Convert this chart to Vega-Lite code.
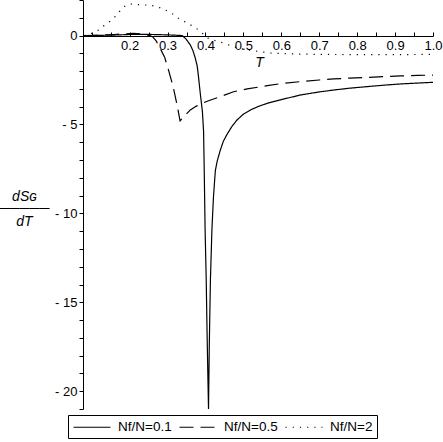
{
  "$schema": "https://vega.github.io/schema/vega-lite/v6.json",
  "width": 350,
  "height": 409,
  "autosize": {"type": "none"},
  "padding": {"left": 83, "top": 0, "right": 10, "bottom": 33},
  "background": "white",
  "config": {
    "view": {"stroke": null},
    "font": "Liberation Sans",
    "axis": {"grid": false, "domainColor": "black", "tickColor": "black", "labelColor": "black", "titleColor": "black", "domainWidth": 1, "tickWidth": 1, "labelFont": "Liberation Sans", "labelFontSize": 13, "titleFont": "Liberation Sans", "titleFontWeight": "normal"}
  },
  "data": {
    "values": [
      {"s": "Nf/N=0.1", "T": 0.08, "v": 0},
      {"s": "Nf/N=0.1", "T": 0.12, "v": 0.01},
      {"s": "Nf/N=0.1", "T": 0.16, "v": 0.03},
      {"s": "Nf/N=0.1", "T": 0.2, "v": 0.06},
      {"s": "Nf/N=0.1", "T": 0.24, "v": 0.07},
      {"s": "Nf/N=0.1", "T": 0.28, "v": 0.05},
      {"s": "Nf/N=0.1", "T": 0.31, "v": 0.03},
      {"s": "Nf/N=0.1", "T": 0.33, "v": 0.01},
      {"s": "Nf/N=0.1", "T": 0.339, "v": 0},
      {"s": "Nf/N=0.1", "T": 0.349, "v": -0.2},
      {"s": "Nf/N=0.1", "T": 0.36, "v": -0.53},
      {"s": "Nf/N=0.1", "T": 0.367, "v": -0.85},
      {"s": "Nf/N=0.1", "T": 0.373, "v": -1.26},
      {"s": "Nf/N=0.1", "T": 0.378, "v": -1.7},
      {"s": "Nf/N=0.1", "T": 0.381, "v": -2.2},
      {"s": "Nf/N=0.1", "T": 0.386, "v": -3.2},
      {"s": "Nf/N=0.1", "T": 0.392, "v": -4.3},
      {"s": "Nf/N=0.1", "T": 0.395, "v": -5.4},
      {"s": "Nf/N=0.1", "T": 0.397, "v": -8.0},
      {"s": "Nf/N=0.1", "T": 0.399, "v": -10.9},
      {"s": "Nf/N=0.1", "T": 0.402, "v": -13.8},
      {"s": "Nf/N=0.1", "T": 0.404, "v": -16.5},
      {"s": "Nf/N=0.1", "T": 0.406, "v": -18.8},
      {"s": "Nf/N=0.1", "T": 0.408, "v": -21},
      {"s": "Nf/N=0.1", "T": 0.41, "v": -17.5},
      {"s": "Nf/N=0.1", "T": 0.413, "v": -13.75},
      {"s": "Nf/N=0.1", "T": 0.417, "v": -10.9},
      {"s": "Nf/N=0.1", "T": 0.421, "v": -9.1},
      {"s": "Nf/N=0.1", "T": 0.426, "v": -7.6},
      {"s": "Nf/N=0.1", "T": 0.431, "v": -7.05},
      {"s": "Nf/N=0.1", "T": 0.439, "v": -6.45},
      {"s": "Nf/N=0.1", "T": 0.447, "v": -5.95},
      {"s": "Nf/N=0.1", "T": 0.457, "v": -5.55},
      {"s": "Nf/N=0.1", "T": 0.47, "v": -5.1},
      {"s": "Nf/N=0.1", "T": 0.483, "v": -4.75},
      {"s": "Nf/N=0.1", "T": 0.5, "v": -4.42},
      {"s": "Nf/N=0.1", "T": 0.519, "v": -4.18},
      {"s": "Nf/N=0.1", "T": 0.54, "v": -3.98},
      {"s": "Nf/N=0.1", "T": 0.563, "v": -3.81},
      {"s": "Nf/N=0.1", "T": 0.6, "v": -3.6},
      {"s": "Nf/N=0.1", "T": 0.651, "v": -3.34},
      {"s": "Nf/N=0.1", "T": 0.7, "v": -3.17},
      {"s": "Nf/N=0.1", "T": 0.739, "v": -3.06},
      {"s": "Nf/N=0.1", "T": 0.78, "v": -2.96},
      {"s": "Nf/N=0.1", "T": 0.827, "v": -2.87},
      {"s": "Nf/N=0.1", "T": 0.87, "v": -2.79},
      {"s": "Nf/N=0.1", "T": 0.915, "v": -2.72},
      {"s": "Nf/N=0.1", "T": 0.96, "v": -2.67},
      {"s": "Nf/N=0.1", "T": 1.0, "v": -2.63},

      {"s": "Nf/N=0.5", "T": 0.08, "v": 0},
      {"s": "Nf/N=0.5", "T": 0.12, "v": 0.02},
      {"s": "Nf/N=0.5", "T": 0.16, "v": 0.06},
      {"s": "Nf/N=0.5", "T": 0.19, "v": 0.1},
      {"s": "Nf/N=0.5", "T": 0.21, "v": 0.12},
      {"s": "Nf/N=0.5", "T": 0.23, "v": 0.1},
      {"s": "Nf/N=0.5", "T": 0.245, "v": 0.04},
      {"s": "Nf/N=0.5", "T": 0.254, "v": 0},
      {"s": "Nf/N=0.5", "T": 0.262, "v": -0.1},
      {"s": "Nf/N=0.5", "T": 0.27, "v": -0.3},
      {"s": "Nf/N=0.5", "T": 0.28, "v": -0.7},
      {"s": "Nf/N=0.5", "T": 0.292, "v": -1.2},
      {"s": "Nf/N=0.5", "T": 0.302, "v": -1.9},
      {"s": "Nf/N=0.5", "T": 0.315, "v": -2.9},
      {"s": "Nf/N=0.5", "T": 0.325, "v": -3.9},
      {"s": "Nf/N=0.5", "T": 0.333, "v": -4.8},
      {"s": "Nf/N=0.5", "T": 0.34, "v": -4.62},
      {"s": "Nf/N=0.5", "T": 0.347, "v": -4.47},
      {"s": "Nf/N=0.5", "T": 0.36, "v": -4.18},
      {"s": "Nf/N=0.5", "T": 0.375, "v": -3.98},
      {"s": "Nf/N=0.5", "T": 0.391, "v": -3.81},
      {"s": "Nf/N=0.5", "T": 0.41, "v": -3.65},
      {"s": "Nf/N=0.5", "T": 0.439, "v": -3.44},
      {"s": "Nf/N=0.5", "T": 0.474, "v": -3.16},
      {"s": "Nf/N=0.5", "T": 0.51, "v": -3.0},
      {"s": "Nf/N=0.5", "T": 0.563, "v": -2.82},
      {"s": "Nf/N=0.5", "T": 0.6, "v": -2.7},
      {"s": "Nf/N=0.5", "T": 0.651, "v": -2.59},
      {"s": "Nf/N=0.5", "T": 0.7, "v": -2.5},
      {"s": "Nf/N=0.5", "T": 0.738, "v": -2.44},
      {"s": "Nf/N=0.5", "T": 0.78, "v": -2.39},
      {"s": "Nf/N=0.5", "T": 0.827, "v": -2.35},
      {"s": "Nf/N=0.5", "T": 0.87, "v": -2.31},
      {"s": "Nf/N=0.5", "T": 0.915, "v": -2.27},
      {"s": "Nf/N=0.5", "T": 0.96, "v": -2.24},
      {"s": "Nf/N=0.5", "T": 1.0, "v": -2.22},

      {"s": "Nf/N=2", "T": 0.08, "v": 0},
      {"s": "Nf/N=2", "T": 0.1, "v": 0.13},
      {"s": "Nf/N=2", "T": 0.116, "v": 0.28},
      {"s": "Nf/N=2", "T": 0.135, "v": 0.6},
      {"s": "Nf/N=2", "T": 0.153, "v": 0.88},
      {"s": "Nf/N=2", "T": 0.166, "v": 1.16},
      {"s": "Nf/N=2", "T": 0.179, "v": 1.5},
      {"s": "Nf/N=2", "T": 0.19, "v": 1.7},
      {"s": "Nf/N=2", "T": 0.2, "v": 1.78},
      {"s": "Nf/N=2", "T": 0.214, "v": 1.76},
      {"s": "Nf/N=2", "T": 0.232, "v": 1.72},
      {"s": "Nf/N=2", "T": 0.249, "v": 1.72},
      {"s": "Nf/N=2", "T": 0.272, "v": 1.63},
      {"s": "Nf/N=2", "T": 0.294, "v": 1.44},
      {"s": "Nf/N=2", "T": 0.311, "v": 1.25},
      {"s": "Nf/N=2", "T": 0.329, "v": 0.97},
      {"s": "Nf/N=2", "T": 0.35, "v": 0.73},
      {"s": "Nf/N=2", "T": 0.373, "v": 0.45},
      {"s": "Nf/N=2", "T": 0.39, "v": 0.17},
      {"s": "Nf/N=2", "T": 0.398, "v": 0},
      {"s": "Nf/N=2", "T": 0.405, "v": -0.13},
      {"s": "Nf/N=2", "T": 0.426, "v": -0.29},
      {"s": "Nf/N=2", "T": 0.447, "v": -0.42},
      {"s": "Nf/N=2", "T": 0.471, "v": -0.6},
      {"s": "Nf/N=2", "T": 0.492, "v": -0.74},
      {"s": "Nf/N=2", "T": 0.532, "v": -0.87},
      {"s": "Nf/N=2", "T": 0.571, "v": -0.98},
      {"s": "Nf/N=2", "T": 0.62, "v": -1.03},
      {"s": "Nf/N=2", "T": 0.7, "v": -1.06},
      {"s": "Nf/N=2", "T": 0.8, "v": -1.07},
      {"s": "Nf/N=2", "T": 0.9, "v": -1.07},
      {"s": "Nf/N=2", "T": 1.0, "v": -1.06}
    ]
  },
  "mark": {"type": "line", "clip": true, "strokeWidth": 1.2, "color": "black"},
  "encoding": {
    "x": {
      "field": "T", "type": "quantitative",
      "scale": {"domain": [0.077, 1.0], "nice": false, "zero": false},
      "axis": {
        "orient": "bottom", "offset": -373,
        "values": [0.1, 0.15, 0.2, 0.25, 0.3, 0.35, 0.4, 0.45, 0.5, 0.55, 0.6, 0.65, 0.7, 0.75, 0.8, 0.85, 0.9, 0.95, 1.0],
        "labelExpr": "datum.value > 0.15 && (round(datum.value * 100) % 10 == 0) ? format(datum.value, '.1f') : ''",
        "tickSize": -4, "labelPadding": 7, "labelFlush": false, "labelOverlap": false,
        "title": "T", "titleFontStyle": "italic", "titleFontSize": 14,
        "titleX": 176, "titleY": 30, "titleBaseline": "alphabetic", "titleAlign": "center"
      }
    },
    "y": {
      "field": "v", "type": "quantitative",
      "scale": {"domain": [-21, 2], "nice": false, "zero": false},
      "axis": {
        "orient": "left",
        "values": [-21, -20, -19, -18, -17, -16, -15, -14, -13, -12, -11, -10, -9, -8, -7, -6, -5, -4, -3, -2, -1, 0, 1, 2],
        "labelExpr": "datum.value % 5 == 0 ? (datum.value < 0 ? '-  ' + abs(datum.value) : '' + datum.value) : ''",
        "tickSize": 4, "labelPadding": 2, "labelOverlap": false, "labelFlush": false,
        "title": ["dSɢ", "─────", "dT"], "titleFontStyle": "italic", "titleFontSize": 14,
        "titleAngle": 0, "titleAlign": "center", "titleBaseline": "top",
        "titleX": -59, "titleY": 189, "titleLineHeight": 12.5
      }
    },
    "strokeDash": {
      "field": "s", "type": "nominal",
      "scale": {"domain": ["Nf/N=0.1", "Nf/N=0.5", "Nf/N=2"], "range": [[1, 0], [14, 7], [1.2, 6]]},
      "legend": {
        "title": null, "orient": "none", "direction": "horizontal",
        "legendX": -15, "legendY": 415,
        "strokeColor": "black", "fillColor": "white", "padding": 4,
        "symbolType": "M-2.5,0H2.5", "symbolSize": 219, "symbolOffset": 12, "symbolStrokeWidth": 1.2, "symbolStrokeColor": "black",
        "labelFont": "Liberation Sans", "labelFontSize": 13.5, "labelColor": "black",
        "labelOffset": 18, "columnPadding": 5
      }
    }
  }
}
